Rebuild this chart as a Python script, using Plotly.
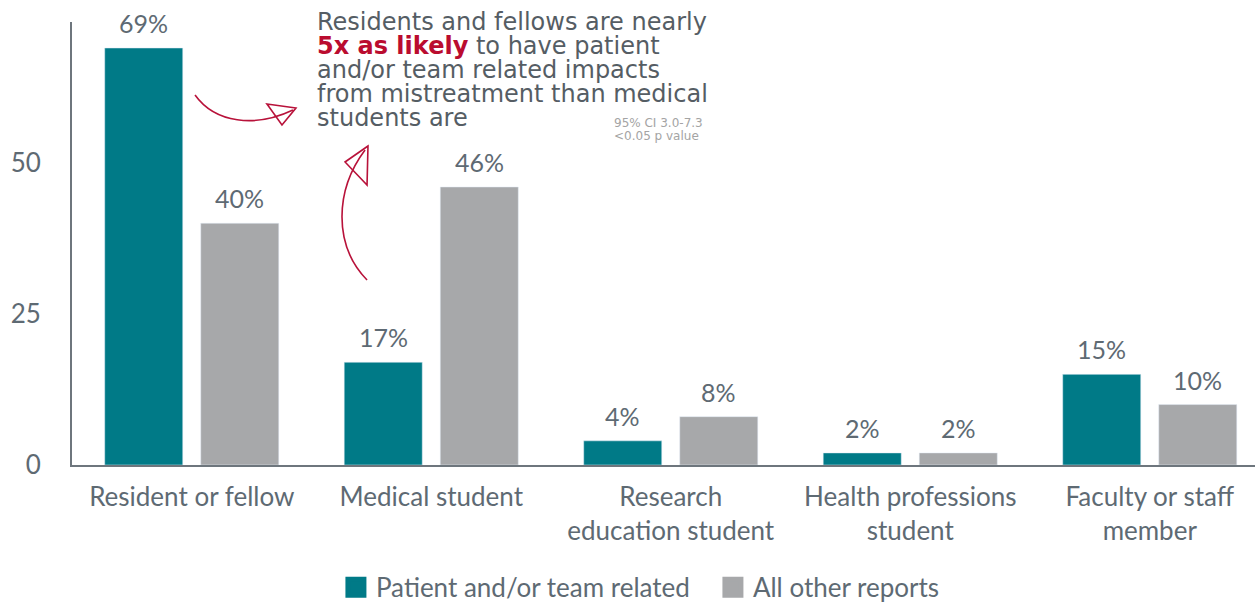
import plotly.graph_objects as go

# ---- data ----
categories = ["Resident or fellow", "Medical student", "Research<br>education student",
              "Health professions<br>student", "Faculty or staff<br>member"]
patient_team = [69, 17, 4, 2, 15]
all_other = [40, 46, 8, 2, 10]
series_names = ["Patient and/or team related", "All other reports"]
y_ticks = [0, 25, 50]
callout_lines = ["Residents and fellows are nearly",
                 "<b><span style='color:#BA0C2F'>5x as likely</span></b> to have patient",
                 "and/or team related impacts",
                 "from mistreatment than medical",
                 "students are"]
stats_lines = ["95% CI 3.0-7.3", "<0.05 p value"]

# ---- style ----
TEAL = "#007A87"
GRAY = "#A7A8AA"
TEXT = "#5E6A73"
DARK = "#555D64"
RED = "#B8123A"
AXIS = "#6E767D"
FONT = "Lato"
CALLOUT_FONT = "DejaVu Sans"

W, H = 1255, 603
L, R, T, B = 72, 0, 22, 138
PW, PH = W - L - R, H - T - B
YMAX = 73.3
GROUP_PX = 239.5
XMAX = -0.5 + PW / GROUP_PX
BARGAP = 0.198
GROUPGAP = 0.1875


def px(x, y):
    return (x - L) / PW, (H - B - y) / PH


def path(cmds):
    out = []
    for c in cmds:
        if isinstance(c, str):
            out.append(c)
        else:
            a, b = px(*c)
            out.append(f"{a:.4f},{b:.4f}")
    return " ".join(out)


fig = go.Figure()
fig.add_trace(go.Bar(x=categories, y=patient_team, marker_color=TEAL, showlegend=False,
                     name=series_names[0]))
fig.add_trace(go.Bar(x=categories, y=all_other, marker_color=GRAY, showlegend=False,
                     name=series_names[1]))
for name, col in zip(series_names, [TEAL, GRAY]):
    fig.add_trace(go.Scatter(x=[None], y=[None], mode="markers", name=name,
                             marker=dict(symbol="square", size=16, color=col,
                                         line=dict(color=col, width=5))))

annotations = []
off = (1 - BARGAP) / 4
for i, (a, b) in enumerate(zip(patient_team, all_other)):
    for xo, v in ((i - off, a), (i + off, b)):
        annotations.append(dict(x=xo, y=v, xref="x", yref="y", text=f"{v}%",
                                showarrow=False, yanchor="bottom", yshift=8,
                                font=dict(family=FONT, size=25, color=TEXT)))

for k, line in enumerate(callout_lines):
    xa, ya = px(315, 22 + 24 * k)
    annotations.append(dict(x=xa, y=ya, xref="paper", yref="paper", text=line,
                            showarrow=False, xanchor="left", yanchor="middle",
                            font=dict(family=CALLOUT_FONT, size=24, color=DARK)))
for k, line in enumerate(stats_lines):
    xa, ya = px(612, 123 + 13 * k)
    annotations.append(dict(x=xa, y=ya, xref="paper", yref="paper", text=line,
                            showarrow=False, xanchor="left", yanchor="middle",
                            font=dict(family=CALLOUT_FONT, size=12, color="#A4A4A4")))

red_line = dict(color=RED, width=1.6)
shapes = [
    dict(type="path", xref="paper", yref="paper", line=red_line,
         path=path(["M", (195, 95), "C", (215, 123), (255, 128), (293, 110)])),
    dict(type="path", xref="paper", yref="paper", line=red_line,
         path=path(["M", (296, 108), "L", (267, 104), "L", (282, 125), "Z"])),
    dict(type="path", xref="paper", yref="paper", line=red_line,
         path=path(["M", (367, 280), "C", (333, 245), (335, 190), (365, 150)])),
    dict(type="path", xref="paper", yref="paper", line=red_line,
         path=path(["M", (368, 146), "L", (345, 162), "L", (367, 185), "Z"])),
]

fig.update_layout(
    width=W, height=H,
    margin=dict(l=L, r=R, t=T, b=B, autoexpand=False),
    paper_bgcolor="white", plot_bgcolor="white",
    barmode="group", bargap=BARGAP, bargroupgap=GROUPGAP,
    font=dict(family=FONT, color=TEXT),
    annotations=annotations,
    shapes=shapes,
    legend=dict(orientation="h", x=0.2231, xanchor="left", yref="container",
                y=0.026, yanchor="middle", entrywidth=332,
                font=dict(family=FONT, size=26, color=TEXT), itemwidth=30),
    xaxis=dict(range=[-0.5, XMAX], showline=True, linecolor=AXIS, linewidth=2,
               showgrid=False, ticks="", tickfont=dict(family=FONT, size=26, color=TEXT),
               ticklabelstandoff=8, automargin=False),
    yaxis=dict(range=[0, YMAX], tickvals=y_ticks, showline=True, linecolor=AXIS,
               linewidth=2, showgrid=False, zeroline=False, ticks="",
               tickfont=dict(family=FONT, size=26, color=TEXT), ticklabelstandoff=24,
               automargin=False),
)

fig.write_html("out.html", config={"displayModeBar": False},
               post_script="document.body.style.margin='0';document.body.style.overflow='hidden';")
